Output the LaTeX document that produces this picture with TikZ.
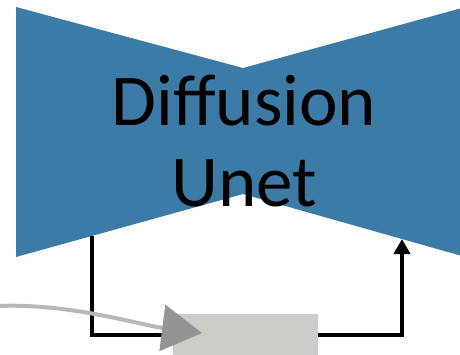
\documentclass[tikz,border=0pt]{standalone}
\usepackage{fontspec}
\setmainfont{Carlito}
\definecolor{UnetBlue}{RGB}{60,123,165}
\definecolor{BlockGray}{RGB}{205,204,200}
\usetikzlibrary{arrows.meta}

\begin{document}
\begin{tikzpicture}[x=1pt,y=-1pt,
    ln/.style={line width=4pt,draw=black},
    ar/.style={ln,-{Triangle[width=16pt,length=15pt]}},
    blk/.style={fill=BlockGray,minimum width=145pt,minimum height=42pt,inner sep=0pt},
    garrow/.style={draw=black!28,line width=4pt,-{Triangle[width=46pt,length=40pt,color=black!42,fill=black!42]}}]
  \useasboundingbox (0,0) rectangle (460,354);
  % bow-tie body
  \fill[UnetBlue] (16,7) -- (243,68) -- (462,8) -- (462,256) -- (243,194) -- (16,257) -- cycle;
  \node[font=\fontsize{73}{81}\selectfont,align=center] (unet) at (244,141) {Diffusion\\Unet};
  % loop through the block
  \coordinate (out) at (92,236);
  \coordinate (in) at (402,239);
  \node[blk] (noise) at (245.5,335) {};
  \draw[ln] (out) |- (noise.west);
  \draw[ar] (noise.east) -| (in);
  \coordinate (src) at (-2,306);
  \draw[garrow] (src) .. controls (70,303) and (140,325) .. (202,333);
\end{tikzpicture}
\end{document}
